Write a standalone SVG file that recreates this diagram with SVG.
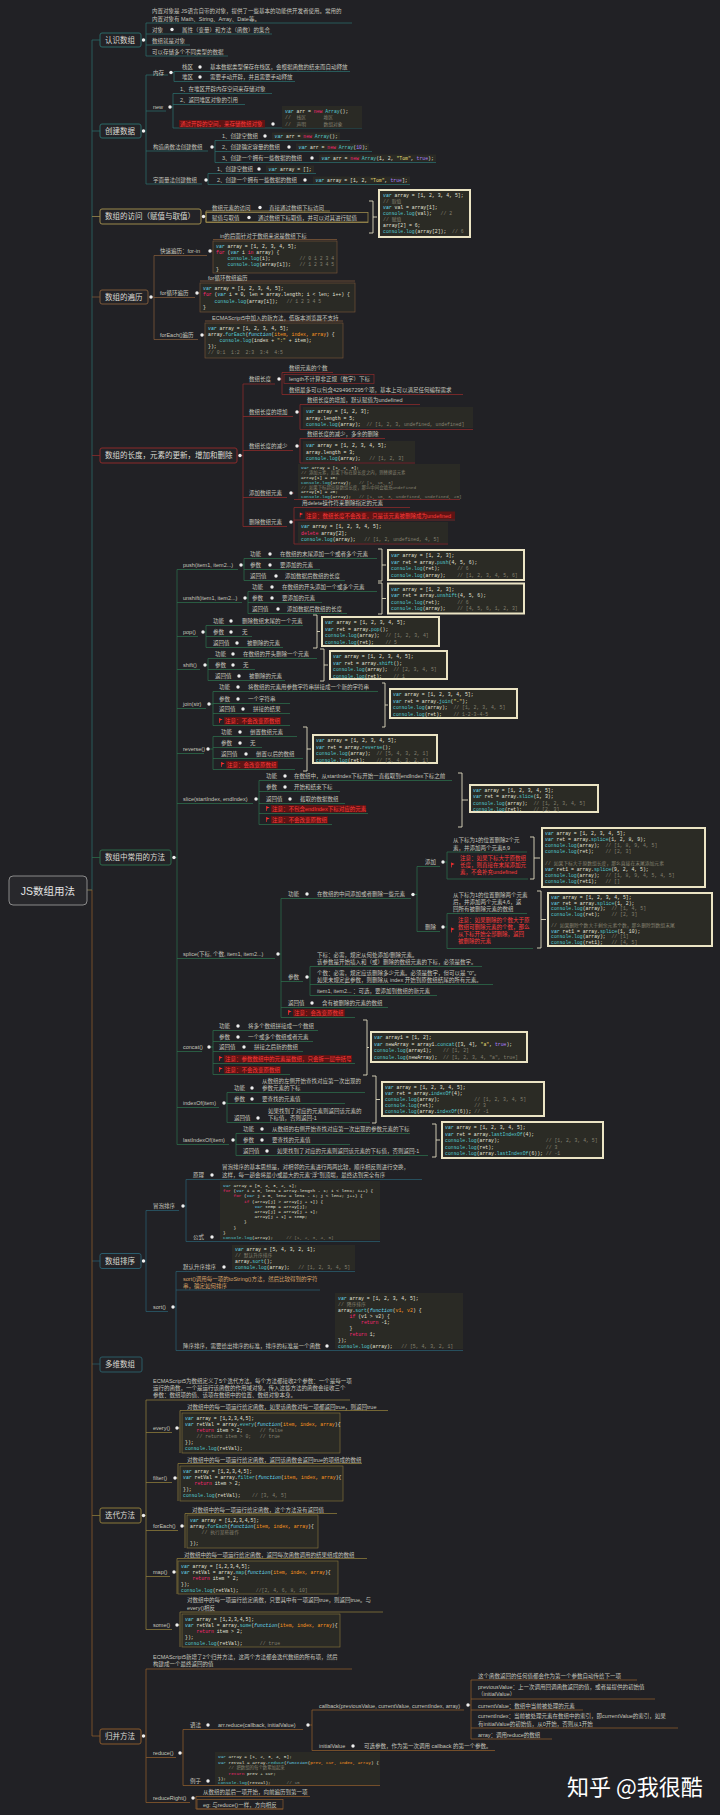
<svg xmlns="http://www.w3.org/2000/svg" width="720" height="1815" viewBox="0 0 720 1815">
<defs>
<style>
text{font-family:"Liberation Sans","Noto Sans CJK SC",sans-serif}
.t{font-size:5.5px;fill:#c6c6be}
.cat{font-size:7.5px;fill:#dcdcd4}
.c{font-family:"Liberation Mono","Noto Sans CJK SC",monospace;font-size:4.8px;fill:#e4e4da;white-space:pre}
.sm{font-size:4.4px}
.k{fill:#66d9ef;font-style:italic}
.p{fill:#f92672}
.f{fill:#52c6cc}
.s{fill:#e6db74}
.m{fill:#858170}
.o{fill:#fd971f}
.n{fill:#ae81ff}
.rt{fill:#ff3a3a}
.rb{fill:#5e1414}
.tan{fill:#d9a467}
.dot{fill:#f0f0f0}
.cb{fill:#2a2a25}
.fr{fill:#2b2b25;stroke:#ebe4c4;stroke-width:2}
.br{fill:none;stroke:#e0dac0;stroke-width:0.9}
.ln{fill:none;stroke-width:0.8}
.box{fill:#232327;stroke-width:1}
.c1{stroke:#2b6a68}
.c2{stroke:#9c8a4c}
.c3{stroke:#7d5838}
.c4{stroke:#8c2b2b}
.c5{stroke:#2c6b4a}
.c6{stroke:#2a5c6c}
.c7{stroke:#2a5c66}
.c8{stroke:#8c7a3a}
.c9{stroke:#8a5a2c}
</style>
<symbol id="flag" viewBox="0 0 5 6"><path d="M0.6,0V6" stroke="#ff3030" stroke-width="0.9"/><path d="M0.6,0.3L4.6,1.8L0.6,3.3Z" fill="#ff3030"/></symbol>
</defs>
<rect width="720" height="1815" fill="#212125"/>

<g id="connectors">
<g class="ln c1">
<path d="M87,890H92V40H100M143,40H146M146,23V56M146,23H352M146,34H272M146,45H190M146,56H228"/>
<path d="M92,131H100M143,131H146M146,75V184M146,75H168M171,72.5H174M174,71.5V81.5M174,71.5H350M174,81.5H295M146,111H166M170,107H173M173,93.5V128M173,93.5H272M173,104.5H245M173,128H362M146,151H208M212,147H215M215,140.5V162.5M215,140.5H350M215,151.5H372M215,162.5H436M146,184H202M206,180H208M208,173.5V184.5M208,173.5H316M208,184.5H410"/>
</g>
<g class="ln c2"><path d="M92,216.5H100M203.5,216.5H206M206,211V222M206,211H330M206,222H368"/></g>
<g class="ln c3"><path d="M92,297H100M151,297H154M154,255.5V339.5M154,255.5H207M210,251H213M213,239.5H337M154,297.5H195M197,293H200M200,281H355M154,339.5H198M202,335H205M205,321H343"/></g>
<g class="ln c4"><path d="M92,455.5H100M240,455.5H243M243,384V526.5M243,384H275M279,379H282M282,372.5V394.5M282,372.5H333M282,394.5H463M243,416.5H293M297,412H300M300,404.5V429.5M300,404.5H420M300,429.5H473M243,450.5H293M297,446H300M300,438.5V463M300,438.5H385M300,463H415M243,497.5H287M291,493H294M294,499.5H460M243,526.5H287M291,522H294M294,507.5V544M294,507.5H410M294,520H455M294,544H448"/></g>
<g class="ln c5"><path d="M92,857.5H100M174,857.5H177M177,569.5V1144.5
M177,569.5H238M241,565H244M244,558.5V580.5M244,558.5H377M244,569.5H320M244,580.5H345
M177,602.5H242M245,598H248M248,591.5V613.5M248,591.5H377M248,602.5H322M248,613.5H347
M177,636.5H198M203,632H206M206,625.5V647.5M206,625.5H303M206,636.5H252M206,647.5H283
M177,669.5H200M205,665H208M208,658.5V680.5M208,658.5H317M208,669.5H255M208,680.5H285
M177,708.5H206M209,704H213M213,691.5V725.5M213,691.5H378M213,703.5H290M213,713.5H290M213,725.5H290
M177,753.5H204M208,749H213M213,736.5V769.5M213,736.5H297M213,747.5H262M213,758.5H303M213,769.5H295
M177,803.5H253M256,799H259M259,780.5V824.5M259,780.5H452M259,791.5H340M259,803.5H345M259,813.5H368M259,824.5H332
M177,958.5H275M278,954H281M281,898.5V1017.5M281,898.5H411M411,894.5H417M417,866.5V931.5M417,866.5H440M417,931.5H440M443,862H447M447,852V879M447,852H527M447,879H528M443,927H447M447,913.5V948.5M447,913.5H527M447,948.5H533
M281,981.5H303M307,977H310M310,966.5V995.5M310,966.5H482M310,984.5H493M310,995.5H437M281,1007.5H388M281,1017.5H355
M177,1051.5H202M209,1047H213M213,1030.5V1074.5M213,1030.5H318M213,1041.5H313M213,1051.5H303M213,1063.5H355M213,1074.5H290
M177,1107.5H219M224,1103H227M227,1092.5V1122.5M227,1092.5H365M227,1103.5H345M227,1122.5H370
M177,1144.5H229M233,1140H236M236,1133.5V1155.5M236,1133.5H410M236,1144.5H350M236,1155.5H428"/></g>
<g class="ln c6"><path d="M92,1261H100M143,1261H146M146,1210.5V1311.5M146,1210.5H179M183,1206H186M186,1179.5V1241.5M186,1179.5H422M186,1241.5H380M146,1311.5H168M173,1307H176M176,1271.5V1350.5M176,1271.5H355M176,1290H320M176,1350.5H463"/></g>
<g class="ln c7"><path d="M92,1364H100"/></g>
<g class="ln c8"><path d="M92,1515.5H100M143,1515.5H146M146,1400V1629.5M146,1400H350M146,1432.5H172M177,1428H180M180,1410.5V1453M180,1410.5H388M146,1482.5H172M175,1478H178M178,1463.5V1501M178,1463.5H362M146,1530.5H178M182,1526H185M185,1513.5V1548M185,1513.5H337M146,1576.5H170M174,1572H177M177,1558.5V1594M177,1558.5H367M146,1629.5H172M177,1625H180M180,1612V1647M180,1612H383"/></g>
<g class="ln c9"><path d="M87,890H92V1736H100M143,1736H146M146,1669V1802.5M146,1669H352M146,1757.5H176M180,1753H183M183,1729.5V1785.5M183,1729.5H303M308,1725H312M312,1710V1750.5M312,1710H464M468,1705H471M471,1680V1739M471,1680H637M471,1699H655M471,1710H583M471,1728H678M471,1739H552M312,1750.5H495M183,1785.5H380M146,1802.5H190M193,1798H196M196,1796.5V1809M196,1796.5H310M196,1809H283"/></g>
<g class="br">
<path d="M369,201H373V233H369M373,217H377"/>
<path d="M378,549H382V581H378M382,565H386"/>
<path d="M378,583H382V614H378M382,598.5H386"/>
<path d="M313,615H317V648H313M317,631.5H320"/>
<path d="M320,649H324V681H320M324,665H328"/>
<path d="M382,683H385V727H382M385,705H388"/>
<path d="M303,727H307V771H303M307,749H311"/>
<path d="M458,773H462V827H458M462,800H468"/>
<path d="M530,837H534V879H530M534,858H540"/>
<path d="M537,891H541V948H537M541,919.5H546"/>
<path d="M363,1020H367V1075H363M367,1047.5H369"/>
<path d="M372,1076H376V1123H372M376,1099.5H380"/>
<path d="M432,1124H436V1157H432M436,1140H440"/>
</g>
</g>

<g id="root"><rect x="9" y="876" width="78" height="29" rx="4" fill="#28282c" stroke="#8a8a8a" stroke-width="1"/><text x="48" y="894.5" text-anchor="middle" style="font-size:10.5px;fill:#e2e2e2">JS数组用法</text></g>

<g id="sec1">
<g id="cat-renshi"><rect x="100" y="33" width="41" height="14" rx="2" class="box c1"/><text class="cat" x="105" y="42.6">认识数组</text><circle class="dot" cx="143.5" cy="40" r="1.7"/></g>
<g id="n-neizhi"><text class="t" x="152" y="13">内置对象是 JS语言自带的对象，提供了一些基本的功能供开发者使用。常用的</text><text class="t" x="152" y="20.5">内置对象有 Math、String、Array、Date等。</text></g>
<g id="n-duixiang"><text class="t" x="152" y="31.5">对象</text><circle class="dot" cx="172" cy="29.5" r="1.7"/><text class="t" x="182" y="31.5">属性（变量）和方法（函数）的集合</text></g>
<g id="n-shuzuduixiang"><text class="t" x="152" y="43">数组就是对象</text></g>
<g id="n-cunchu"><text class="t" x="152" y="54">可以存储多个不同类型的数据</text></g>
</g>

<g id="sec2">
<g id="cat-chuangjian"><rect x="100" y="124" width="41" height="14" rx="2" class="box c1"/><text class="cat" x="105" y="133.6">创建数据</text><circle class="dot" cx="143.5" cy="131" r="1.7"/></g>
<g id="n-neicun"><text class="t" x="153" y="74.5">内存</text><circle class="dot" cx="171" cy="72.5" r="1.7"/>
<text class="t" x="182" y="69">栈区</text><circle class="dot" cx="200" cy="67" r="1.7"/><text class="t" x="210" y="69">基本数据类型保存在栈区，会根据函数的结束而自动释放</text>
<text class="t" x="182" y="79">堆区</text><circle class="dot" cx="200" cy="77" r="1.7"/><text class="t" x="210" y="79">需要手动开辟，并且需要手动释放</text></g>
<g id="n-new"><text class="t" x="153" y="109">new</text><circle class="dot" cx="170" cy="107" r="1.7"/>
<text class="t" x="180" y="91">1、在堆区开辟内存空间来存储对象</text>
<text class="t" x="180" y="102">2、返回堆区对象的引用</text>
<rect class="rb" x="179" y="120" width="86" height="7.5"/><text class="t rt" x="180" y="126">通过开辟的空间，来存储数组对象</text><circle class="dot" cx="273" cy="124" r="1.7"/>
<rect class="cb" x="282" y="106" width="80" height="22"/>
<text class="c" x="285" y="112.5"><tspan class="k">var</tspan> arr = <tspan class="p">new</tspan> <tspan class="f">Array</tspan>();</text>
<text class="c m" x="285" y="119">//  栈区      堆区</text>
<text class="c m" x="285" y="125.5">//  声明      数组对象</text></g>
<g id="n-gouzao"><text class="t" x="153" y="149">构造函数法创建数组</text><circle class="dot" cx="212" cy="147" r="1.7"/>
<text class="t" x="222" y="138">1、创建空数组</text><circle class="dot" cx="265" cy="136" r="1.7"/><rect class="cb" x="272" y="132.5" width="68" height="7"/><text class="c" x="274.5" y="137.8"><tspan class="k">var</tspan> arr = <tspan class="p">new</tspan> <tspan class="f">Array</tspan>();</text>
<text class="t" x="222" y="149">2、创建确定容量的数组</text><circle class="dot" cx="289" cy="147" r="1.7"/><rect class="cb" x="296" y="143.5" width="73" height="7"/><text class="c" x="298.5" y="148.8"><tspan class="k">var</tspan> arr = <tspan class="p">new</tspan> <tspan class="f">Array</tspan>(<tspan class="n">10</tspan>);</text>
<text class="t" x="222" y="160">3、创建一个拥有一些数据的数组</text><circle class="dot" cx="312" cy="158" r="1.7"/><rect class="cb" x="319" y="154.5" width="117" height="7"/><text class="c" x="321.5" y="159.8"><tspan class="k">var</tspan> arr = <tspan class="p">new</tspan> <tspan class="f">Array</tspan>(1, 2, <tspan class="s">"Tom"</tspan>, <tspan class="n">true</tspan>);</text></g>
<g id="n-zimianliang"><text class="t" x="153" y="182">字面量法创建数组</text><circle class="dot" cx="206" cy="180" r="1.7"/>
<text class="t" x="217" y="171">1、创建空数组</text><circle class="dot" cx="259" cy="169" r="1.7"/><rect class="cb" x="266" y="165.5" width="48" height="7"/><text class="c" x="268.5" y="170.8"><tspan class="k">var</tspan> array = [];</text>
<text class="t" x="217" y="182">2、创建一个拥有一些数据的数组</text><circle class="dot" cx="305" cy="180" r="1.7"/><rect class="cb" x="313" y="176.5" width="97" height="7"/><text class="c" x="315.5" y="181.8"><tspan class="k">var</tspan> array = [1, 2, <tspan class="s">"Tom"</tspan>, <tspan class="n">true</tspan>];</text></g>
</g>

<g id="sec3">
<g id="cat-fangwen"><rect x="100" y="209" width="101" height="15" rx="2" class="box c2"/><text class="cat" x="105" y="219.3">数组的访问（赋值与取值）</text><circle class="dot" cx="203.5" cy="216.5" r="1.7"/></g>
<g id="n-fangwen"><text class="t" x="212" y="209.5">数组元素的访问</text><circle class="dot" cx="260" cy="207.5" r="1.7"/><text class="t" x="269" y="209.5">直接通过数组下标访问</text></g>
<g id="n-fuzhi"><rect x="206" y="212.5" width="162" height="10" fill="none" stroke="#9c8a4c" stroke-width="0.8"/><text class="t" x="212" y="219.5">赋值与取值</text><circle class="dot" cx="249" cy="217.5" r="1.7"/><text class="t" x="258" y="219.5">通过数组下标取值，并可以对其进行赋值</text></g>
<g id="code-fangwen"><rect class="fr" x="379" y="190" width="91" height="47"/>
<text class="c" x="383" y="196.5"><tspan class="k">var</tspan> array = [1, 2, 3, 4, 5];</text>
<text class="c m" x="383" y="202.6">// 取值</text>
<text class="c" x="383" y="208.7"><tspan class="k">var</tspan> val = array[1];</text>
<text class="c" x="383" y="214.8"><tspan class="f">console.log</tspan>(val);   <tspan class="m">// 2</tspan></text>
<text class="c m" x="383" y="220.9">// 赋值</text>
<text class="c" x="383" y="227">array[2] = 6;</text>
<text class="c" x="383" y="233.1"><tspan class="f">console.log</tspan>(array[2]);  <tspan class="m">// 6</tspan></text></g>
</g>

<g id="sec4">
<g id="cat-bianli"><rect x="100" y="290" width="48" height="14" rx="2" class="box c3"/><text class="cat" x="105" y="299.6">数组的遍历</text><circle class="dot" cx="151" cy="297" r="1.7"/></g>
<g id="n-forin"><text class="t" x="160" y="253">快速遍历：for-in</text><circle class="dot" cx="210" cy="251" r="1.7"/>
<text class="t" x="220" y="237.5">in的后面针对于数组来说是数组下标</text>
<rect class="cb" x="213" y="241" width="124" height="32" stroke="#7d5838" stroke-width="0.6"/>
<text class="c" x="216" y="247.5"><tspan class="k">var</tspan> array = [1, 2, 3, 4, 5];</text>
<text class="c" x="216" y="253.5"><tspan class="p">for</tspan> (<tspan class="k">var</tspan> i <tspan class="p">in</tspan> array) {</text>
<text class="c" x="216" y="259.5">    <tspan class="f">console.log</tspan>(i);          <tspan class="m">// 0 1 2 3 4</tspan></text>
<text class="c" x="216" y="265.5">    <tspan class="f">console.log</tspan>(array[i]);   <tspan class="m">// 1 2 3 4 5</tspan></text>
<text class="c" x="216" y="271">}</text></g>
<g id="n-for"><text class="t" x="160" y="295">for循环遍历</text><circle class="dot" cx="197" cy="293" r="1.7"/>
<text class="t" x="208" y="279.5">for循环数组遍历</text>
<rect class="cb" x="200" y="283" width="155" height="29" stroke="#7d5838" stroke-width="0.6"/>
<text class="c" x="203" y="289.5"><tspan class="k">var</tspan> array = [1, 2, 3, 4, 5];</text>
<text class="c" x="203" y="296"><tspan class="p">for</tspan> (<tspan class="k">var</tspan> i = 0, len = array.length; i &lt; len; i++) {</text>
<text class="c" x="203" y="302.5">    <tspan class="f">console.log</tspan>(array[i]);   <tspan class="m">// 1 2 3 4 5</tspan></text>
<text class="c" x="203" y="309">}</text></g>
<g id="n-foreach"><text class="t" x="160" y="337">forEach()遍历</text><circle class="dot" cx="202" cy="335" r="1.7"/>
<text class="t" x="212" y="319.5">ECMAScript5中加入的新方法，低版本浏览器不支持</text>
<rect class="cb" x="205" y="323" width="138" height="35" stroke="#7d5838" stroke-width="0.6"/>
<text class="c" x="208" y="329.5"><tspan class="k">var</tspan> array = [1, 2, 3, 4, 5];</text>
<text class="c" x="208" y="335.5">array.<tspan class="f">forEach</tspan>(<tspan class="k">function</tspan>(<tspan class="o">item, index, array</tspan>) {</text>
<text class="c" x="208" y="341.5">    <tspan class="f">console.log</tspan>(index + <tspan class="s">":"</tspan> + item);</text>
<text class="c" x="208" y="347.5">});</text>
<text class="c m" x="208" y="353.5">// 0:1  1:2  2:3  3:4  4:5</text></g>
</g>

<g id="sec5">
<g id="cat-changdu"><rect x="100" y="448" width="137" height="15" rx="2" class="box c4"/><text class="cat" x="105" y="458.3">数组的长度，元素的更新，增加和删除</text><circle class="dot" cx="240" cy="455.5" r="1.7"/></g>
<g id="n-length"><text class="t" x="249" y="381">数组长度</text><circle class="dot" cx="279" cy="379" r="1.7"/>
<text class="t" x="289" y="370">数组元素的个数</text>
<rect x="284" y="374.5" width="90" height="9" fill="none" stroke="#8c2b2b" stroke-width="0.7"/><text class="t" x="289" y="381">length不计算非正规（数字）下标</text>
<text class="t" x="289" y="392">数组最多可以包含4294967295个项，基本上可以满足任何编程需求</text></g>
<g id="n-zengjia"><text class="t" x="249" y="414">数组长度的增加</text><circle class="dot" cx="297" cy="412" r="1.7"/>
<text class="t" x="307" y="402">数组长度的增加，默认赋值为undefined</text>
<rect class="cb" x="303" y="407" width="170" height="21"/>
<text class="c" x="306" y="413"><tspan class="k">var</tspan> array = [1, 2, 3];</text>
<text class="c" x="306" y="419.5">array.length = 5;</text>
<text class="c" x="306" y="426"><tspan class="f">console.log</tspan>(array);  <tspan class="m">// [1, 2, 3, undefined, undefined]</tspan></text></g>
<g id="n-jianshao"><text class="t" x="249" y="448">数组长度的减少</text><circle class="dot" cx="297" cy="446" r="1.7"/>
<text class="t" x="307" y="436">数组长度的减少，多余的删除</text>
<rect class="cb" x="303" y="441" width="112" height="21"/>
<text class="c" x="306" y="447"><tspan class="k">var</tspan> array = [1, 2, 3, 4, 5];</text>
<text class="c" x="306" y="453.5">array.length = 3;</text>
<text class="c" x="306" y="460"><tspan class="f">console.log</tspan>(array);   <tspan class="m">// [1, 2, 3]</tspan></text></g>
<g id="n-tianjia"><text class="t" x="249" y="495">添加数组元素</text><circle class="dot" cx="291" cy="493" r="1.7"/>
<rect class="cb" x="298" y="464" width="162" height="35"/>
<text class="c sm" x="301" y="469.3"><tspan class="k">var</tspan> array = [1, 2, 3];</text>
<text class="c sm m" x="301" y="474.1">// 添加元素，如果下标在原长度之内，则替换该元素</text>
<text class="c sm" x="301" y="478.9">array[1] = 10;</text>
<text class="c sm" x="301" y="483.7"><tspan class="f">console.log</tspan>(array);   <tspan class="m">// [1, 10, 3]</tspan></text>
<text class="c sm m" x="301" y="488.5">// 如果下标超出原数组长度，那么中间会填充undefined</text>
<text class="c sm" x="301" y="493.3">array[5] = 20;</text>
<text class="c sm" x="301" y="498.1"><tspan class="f">console.log</tspan>(array);   <tspan class="m">// [1, 10, 3, undefined, undefined, 20]</tspan></text></g>
<g id="n-shanchu"><text class="t" x="249" y="524">删除数组元素</text><circle class="dot" cx="291" cy="522" r="1.7"/>
<text class="t" x="302" y="505">用delete操作符来删除指定的元素</text>
<use href="#flag" x="299.5" y="512" width="4" height="6"/><rect class="rb" x="305" y="511.5" width="150" height="7.5"/><text class="t rt" x="306" y="517.5">注意：数组长度不会改变，只是该元素被删除成为undefined</text>
<rect class="cb" x="298" y="522" width="150" height="21"/>
<text class="c" x="301" y="528"><tspan class="k">var</tspan> array = [1, 2, 3, 4, 5];</text>
<text class="c" x="301" y="534.5"><tspan class="p">delete</tspan> array[2];</text>
<text class="c" x="301" y="541"><tspan class="f">console.log</tspan>(array);   <tspan class="m">// [1, 2, undefined, 4, 5]</tspan></text></g>
</g>

<g id="sec6">
<g id="cat-fangfa"><rect x="100" y="850" width="71" height="15" rx="2" class="box c5"/><text class="cat" x="105" y="860.3">数组中常用的方法</text><circle class="dot" cx="174" cy="857.5" r="1.7"/></g>

<g id="m-push"><text class="t" x="183" y="567">push(item1, item2...)</text><circle class="dot" cx="241" cy="565" r="1.7"/>
<text class="t" x="250" y="556">功能</text><circle class="dot" cx="270" cy="554" r="1.7"/><text class="t" x="280" y="556">在数组的末尾添加一个或者多个元素</text>
<text class="t" x="250" y="567">参数</text><circle class="dot" cx="270" cy="565" r="1.7"/><text class="t" x="280" y="567">要添加的元素</text>
<text class="t" x="250" y="578">返回值</text><circle class="dot" cx="276" cy="576" r="1.7"/><text class="t" x="285" y="578">添加数据后数组的长度</text>
<rect class="fr" x="388" y="550" width="136" height="30"/>
<text class="c" x="391" y="557"><tspan class="k">var</tspan> array = [1, 2, 3];</text>
<text class="c" x="391" y="563.5"><tspan class="k">var</tspan> ret = array.<tspan class="f">push</tspan>(4, 5, 6);</text>
<text class="c" x="391" y="570"><tspan class="f">console.log</tspan>(ret);      <tspan class="m">// 6</tspan></text>
<text class="c" x="391" y="576.5"><tspan class="f">console.log</tspan>(array);    <tspan class="m">// [1, 2, 3, 4, 5, 6]</tspan></text></g>

<g id="m-unshift"><text class="t" x="183" y="600">unshift(item1, item2...)</text><circle class="dot" cx="245" cy="598" r="1.7"/>
<text class="t" x="252" y="589">功能</text><circle class="dot" cx="272" cy="587" r="1.7"/><text class="t" x="282" y="589">在数组的开头添加一个或多个元素</text>
<text class="t" x="252" y="600">参数</text><circle class="dot" cx="272" cy="598" r="1.7"/><text class="t" x="282" y="600">要添加的元素</text>
<text class="t" x="252" y="611">返回值</text><circle class="dot" cx="278" cy="609" r="1.7"/><text class="t" x="287" y="611">添加数据后数组的长度</text>
<rect class="fr" x="388" y="583.5" width="136" height="30"/>
<text class="c" x="391" y="590.5"><tspan class="k">var</tspan> array = [1, 2, 3];</text>
<text class="c" x="391" y="597"><tspan class="k">var</tspan> ret = array.<tspan class="f">unshift</tspan>(4, 5, 6);</text>
<text class="c" x="391" y="603.5"><tspan class="f">console.log</tspan>(ret);      <tspan class="m">// 6</tspan></text>
<text class="c" x="391" y="610"><tspan class="f">console.log</tspan>(array);    <tspan class="m">// [4, 5, 6, 1, 2, 3]</tspan></text></g>

<g id="m-pop"><text class="t" x="183" y="634">pop()</text><circle class="dot" cx="203" cy="632" r="1.7"/>
<text class="t" x="213" y="623">功能</text><circle class="dot" cx="231" cy="621" r="1.7"/><text class="t" x="242" y="623">删除数组末尾的一个元素</text>
<text class="t" x="213" y="634">参数</text><circle class="dot" cx="231" cy="632" r="1.7"/><text class="t" x="242" y="634">无</text>
<text class="t" x="213" y="645">返回值</text><circle class="dot" cx="237" cy="643" r="1.7"/><text class="t" x="247" y="645">被删除的元素</text>
<rect class="fr" x="322" y="617" width="117" height="29"/>
<text class="c" x="325" y="624"><tspan class="k">var</tspan> array = [1, 2, 3, 4, 5];</text>
<text class="c" x="325" y="630.5"><tspan class="k">var</tspan> ret = array.<tspan class="f">pop</tspan>();</text>
<text class="c" x="325" y="637"><tspan class="f">console.log</tspan>(array);  <tspan class="m">// [1, 2, 3, 4]</tspan></text>
<text class="c" x="325" y="643.5"><tspan class="f">console.log</tspan>(ret);    <tspan class="m">// 5</tspan></text></g>

<g id="m-shift"><text class="t" x="183" y="667">shift()</text><circle class="dot" cx="205" cy="665" r="1.7"/>
<text class="t" x="215" y="656">功能</text><circle class="dot" cx="233" cy="654" r="1.7"/><text class="t" x="243" y="656">在数组的开头删除一个元素</text>
<text class="t" x="215" y="667">参数</text><circle class="dot" cx="233" cy="665" r="1.7"/><text class="t" x="243" y="667">无</text>
<text class="t" x="215" y="678">返回值</text><circle class="dot" cx="239" cy="676" r="1.7"/><text class="t" x="249" y="678">被删除的元素</text>
<rect class="fr" x="330" y="651" width="117" height="28"/>
<text class="c" x="333" y="658"><tspan class="k">var</tspan> array = [1, 2, 3, 4, 5];</text>
<text class="c" x="333" y="664.5"><tspan class="k">var</tspan> ret = array.<tspan class="f">shift</tspan>();</text>
<text class="c" x="333" y="671"><tspan class="f">console.log</tspan>(array);  <tspan class="m">// [2, 3, 4, 5]</tspan></text>
<text class="c" x="333" y="677.5"><tspan class="f">console.log</tspan>(ret);    <tspan class="m">// 1</tspan></text></g>

<g id="m-join"><text class="t" x="183" y="706">join(str)</text><circle class="dot" cx="209" cy="704" r="1.7"/>
<text class="t" x="219" y="689">功能</text><circle class="dot" cx="238" cy="687" r="1.7"/><text class="t" x="248" y="689">将数组的元素用参数字符串拼接成一个新的字符串</text>
<text class="t" x="219" y="701">参数</text><circle class="dot" cx="238" cy="699" r="1.7"/><text class="t" x="248" y="701">一个字符串</text>
<text class="t" x="219" y="711">返回值</text><circle class="dot" cx="243" cy="709" r="1.7"/><text class="t" x="253" y="711">拼接的结果</text>
<use href="#flag" x="219" y="717.5" width="4" height="6"/><rect class="rb" x="224" y="717" width="57" height="7.5"/><text class="t rt" x="225" y="723">注意：不会改变原数组</text>
<rect class="fr" x="390" y="689" width="127" height="29"/>
<text class="c" x="393" y="696"><tspan class="k">var</tspan> array = [1, 2, 3, 4, 5];</text>
<text class="c" x="393" y="702.5"><tspan class="k">var</tspan> ret = array.<tspan class="f">join</tspan>(<tspan class="s">"-"</tspan>);</text>
<text class="c" x="393" y="709"><tspan class="f">console.log</tspan>(array);  <tspan class="m">// [1, 2, 3, 4, 5]</tspan></text>
<text class="c" x="393" y="715.5"><tspan class="f">console.log</tspan>(ret);    <tspan class="m">// 1-2-3-4-5</tspan></text></g>

<g id="m-reverse"><text class="t" x="183" y="751">reverse()</text><circle class="dot" cx="208" cy="749" r="1.7"/>
<text class="t" x="221" y="734">功能</text><circle class="dot" cx="240" cy="732" r="1.7"/><text class="t" x="250" y="734">倒置数组元素</text>
<text class="t" x="221" y="745">参数</text><circle class="dot" cx="240" cy="743" r="1.7"/><text class="t" x="250" y="745">无</text>
<text class="t" x="221" y="756">返回值</text><circle class="dot" cx="246" cy="754" r="1.7"/><text class="t" x="256" y="756">倒置以后的数组</text>
<use href="#flag" x="221" y="761.5" width="4" height="6"/><rect class="rb" x="226" y="761" width="52" height="7.5"/><text class="t rt" x="227" y="767">注意：会改变原数组</text>
<rect class="fr" x="313" y="735" width="124" height="28"/>
<text class="c" x="316" y="742"><tspan class="k">var</tspan> array = [1, 2, 3, 4, 5];</text>
<text class="c" x="316" y="748.5"><tspan class="k">var</tspan> ret = array.<tspan class="f">reverse</tspan>();</text>
<text class="c" x="316" y="755"><tspan class="f">console.log</tspan>(array);  <tspan class="m">// [5, 4, 3, 2, 1]</tspan></text>
<text class="c" x="316" y="761.5"><tspan class="f">console.log</tspan>(ret);    <tspan class="m">// [5, 4, 3, 2, 1]</tspan></text></g>

<g id="m-slice"><text class="t" x="183" y="801">slice(startIndex, endIndex)</text><circle class="dot" cx="256" cy="799" r="1.7"/>
<text class="t" x="266" y="778">功能</text><circle class="dot" cx="285" cy="776" r="1.7"/><text class="t" x="294" y="778">在数组中，从startIndex下标开始一直截取到endIndex下标之前</text>
<text class="t" x="266" y="789">参数</text><circle class="dot" cx="285" cy="787" r="1.7"/><text class="t" x="294" y="789">开始和结束下标</text>
<text class="t" x="266" y="801">返回值</text><circle class="dot" cx="290" cy="799" r="1.7"/><text class="t" x="300" y="801">截取的数据数组</text>
<use href="#flag" x="266" y="805.5" width="4" height="6"/><rect class="rb" x="271" y="805" width="95" height="7.5"/><text class="t rt" x="272" y="811">注意：不包含endIndex下标对应的元素</text>
<use href="#flag" x="266" y="816.5" width="4" height="6"/><rect class="rb" x="271" y="816" width="57" height="7.5"/><text class="t rt" x="272" y="822">注意：不会改变原数组</text>
<rect class="fr" x="470" y="785" width="128" height="27"/>
<text class="c" x="473" y="792"><tspan class="k">var</tspan> array = [1, 2, 3, 4, 5];</text>
<text class="c" x="473" y="798.3"><tspan class="k">var</tspan> ret = array.<tspan class="f">slice</tspan>(1, 3);</text>
<text class="c" x="473" y="804.6"><tspan class="f">console.log</tspan>(array);  <tspan class="m">// [1, 2, 3, 4, 5]</tspan></text>
<text class="c" x="473" y="810.9"><tspan class="f">console.log</tspan>(ret);    <tspan class="m">// [2, 3]</tspan></text></g>

<g id="m-splice"><text class="t" x="183" y="956">splice(下标, 个数, item1, item2...)</text><circle class="dot" cx="278" cy="954" r="1.7"/>
<g id="splice-gongneng"><text class="t" x="288" y="896">功能</text><circle class="dot" cx="307" cy="894" r="1.7"/><text class="t" x="317" y="896">在数组的中间添加或者删除一些元素</text><circle class="dot" cx="413" cy="894.5" r="1.7"/></g>
<g id="splice-add"><text class="t" x="425" y="864">添加</text><circle class="dot" cx="443" cy="862" r="1.7"/>
<text class="t" x="453" y="842">从下标为1的位置删除2个元</text><text class="t" x="453" y="849.5">素，并添加两个元素8,9</text>
<use href="#flag" x="451" y="862" width="4" height="6"/>
<text class="t rt" x="460" y="859.5">注意：如果下标大于原数组</text><text class="t rt" x="460" y="866.5">长度，则直接在末尾添加元</text><text class="t rt" x="460" y="873.5">素，不会补充undefined</text>
<rect class="fr" x="542" y="828" width="163" height="59"/>
<text class="c" x="545" y="834.5"><tspan class="k">var</tspan> array = [1, 2, 3, 4, 5];</text>
<text class="c" x="545" y="840.5"><tspan class="k">var</tspan> ret = array.<tspan class="f">splice</tspan>(1, 2, 8, 9);</text>
<text class="c" x="545" y="846.5"><tspan class="f">console.log</tspan>(array);  <tspan class="m">// [1, 8, 9, 4, 5]</tspan></text>
<text class="c" x="545" y="852.5"><tspan class="f">console.log</tspan>(ret);    <tspan class="m">// [2, 3]</tspan></text>
<text class="c m" x="545" y="864.5">// 如果下标大于原数组长度，那么直接在末尾添加元素</text>
<text class="c" x="545" y="870.5"><tspan class="k">var</tspan> ret1 = array.<tspan class="f">splice</tspan>(9, 2, 4, 5);</text>
<text class="c" x="545" y="876.5"><tspan class="f">console.log</tspan>(array);  <tspan class="m">// [1, 8, 9, 4, 5, 4, 5]</tspan></text>
<text class="c" x="545" y="882.5"><tspan class="f">console.log</tspan>(ret1);   <tspan class="m">// []</tspan></text></g>
<g id="splice-del"><text class="t" x="425" y="929">删除</text><circle class="dot" cx="443" cy="927" r="1.7"/>
<text class="t" x="453" y="897">从下标为1的位置删除两个元素</text><text class="t" x="453" y="904">后，并添加两个元素4,6，返</text><text class="t" x="453" y="911">回所有被删除元素的数组</text>
<use href="#flag" x="451" y="927" width="4" height="6"/>
<text class="t rt" x="458" y="922">注意：如果删除的个数大于原</text><text class="t rt" x="458" y="929">数组可删除元素的个数，那么</text><text class="t rt" x="458" y="936">从下标开始全部删除，返回</text><text class="t rt" x="458" y="943">被删除的元素</text>
<rect class="fr" x="548" y="893" width="164" height="53"/>
<text class="c" x="551" y="899"><tspan class="k">var</tspan> array = [1, 2, 3, 4, 5];</text>
<text class="c" x="551" y="904.6"><tspan class="k">var</tspan> ret = array.<tspan class="f">splice</tspan>(1, 2);</text>
<text class="c" x="551" y="910.2"><tspan class="f">console.log</tspan>(array);  <tspan class="m">// [1, 4, 5]</tspan></text>
<text class="c" x="551" y="915.8"><tspan class="f">console.log</tspan>(ret);    <tspan class="m">// [2, 3]</tspan></text>
<text class="c m" x="551" y="927">// 如果删除个数大于剩余元素个数，那么删除到数组末尾</text>
<text class="c" x="551" y="932.6"><tspan class="k">var</tspan> ret1 = array.<tspan class="f">splice</tspan>(1, 10);</text>
<text class="c" x="551" y="938.2"><tspan class="f">console.log</tspan>(array);  <tspan class="m">// [1]</tspan></text>
<text class="c" x="551" y="943.8"><tspan class="f">console.log</tspan>(ret1);   <tspan class="m">// [4, 5]</tspan></text></g>
<g id="splice-canshu"><text class="t" x="288" y="979">参数</text><circle class="dot" cx="307" cy="977" r="1.7"/>
<text class="t" x="317" y="957">下标：必需，规定从何处添加/删除元素。</text><text class="t" x="317" y="964">该参数是开始插入和（或）删除的数组元素的下标，必须是数字。</text>
<text class="t" x="317" y="975">个数：必需，规定应该删除多少元素。必须是数字，但可以是 "0"。</text><text class="t" x="317" y="982">如果未规定此参数，则删除从 index 开始到原数组结尾的所有元素。</text>
<text class="t" x="317" y="993">item1, item2... ：可选，要添加到数组的新元素</text></g>
<g id="splice-fanhui"><text class="t" x="288" y="1005">返回值</text><circle class="dot" cx="312" cy="1003" r="1.7"/><text class="t" x="322" y="1005">含有被删除的元素的数组</text>
<use href="#flag" x="288" y="1009.5" width="4" height="6"/><rect class="rb" x="293" y="1009" width="52" height="7.5"/><text class="t rt" x="294" y="1015">注意：会改变原数组</text></g>
</g>

<g id="m-concat"><text class="t" x="183" y="1049">concat()</text><circle class="dot" cx="209" cy="1047" r="1.7"/>
<text class="t" x="219" y="1028">功能</text><circle class="dot" cx="238" cy="1026" r="1.7"/><text class="t" x="248" y="1028">将多个数组拼接成一个数组</text>
<text class="t" x="219" y="1039">参数</text><circle class="dot" cx="238" cy="1037" r="1.7"/><text class="t" x="248" y="1039">一个或多个数组或者元素</text>
<text class="t" x="219" y="1049">返回值</text><circle class="dot" cx="244" cy="1047" r="1.7"/><text class="t" x="254" y="1049">拼接之后新的数组</text>
<use href="#flag" x="219" y="1055.5" width="4" height="6"/><rect class="rb" x="224" y="1055" width="128" height="7.5"/><text class="t rt" x="225" y="1061">注意：参数数组中的元素是数组，只会拆一层中括号</text>
<use href="#flag" x="219" y="1066.5" width="4" height="6"/><rect class="rb" x="224" y="1066" width="57" height="7.5"/><text class="t rt" x="225" y="1072">注意：不会改变原数组</text>
<rect class="fr" x="371" y="1032" width="156" height="30"/>
<text class="c" x="374" y="1039"><tspan class="k">var</tspan> array1 = [1, 2];</text>
<text class="c" x="374" y="1045.5"><tspan class="k">var</tspan> newArray = array1.<tspan class="f">concat</tspan>([3, 4], <tspan class="s">"a"</tspan>, <tspan class="n">true</tspan>);</text>
<text class="c" x="374" y="1052"><tspan class="f">console.log</tspan>(array1);    <tspan class="m">// [1, 2]</tspan></text>
<text class="c" x="374" y="1058.5"><tspan class="f">console.log</tspan>(newArray);  <tspan class="m">// [1, 2, 3, 4, "a", true]</tspan></text></g>

<g id="m-indexof"><text class="t" x="183" y="1105">indexOf(item)</text><circle class="dot" cx="224" cy="1103" r="1.7"/>
<text class="t" x="262" y="1082.5">从数组的左侧开始查找对应第一次出现的</text>
<text class="t" x="234" y="1090">功能</text><circle class="dot" cx="252" cy="1088" r="1.7"/><text class="t" x="262" y="1090">参数元素的下标</text>
<text class="t" x="234" y="1101">参数</text><circle class="dot" cx="252" cy="1099" r="1.7"/><text class="t" x="262" y="1101">要查找的元素值</text>
<text class="t" x="268" y="1112.5">如果找到了对应的元素则返回该元素的</text>
<text class="t" x="234" y="1120">返回值</text><circle class="dot" cx="258" cy="1118" r="1.7"/><text class="t" x="268" y="1120">下标值，否则返回-1</text>
<rect class="fr" x="382" y="1082" width="162" height="34"/>
<text class="c" x="385" y="1088.5"><tspan class="k">var</tspan> array = [1, 2, 3, 4, 5];</text>
<text class="c" x="385" y="1094.7"><tspan class="k">var</tspan> ret = array.<tspan class="f">indexOf</tspan>(4);</text>
<text class="c" x="385" y="1100.9"><tspan class="f">console.log</tspan>(array);            <tspan class="m">// [1, 2, 3, 4, 5]</tspan></text>
<text class="c" x="385" y="1107.1"><tspan class="f">console.log</tspan>(ret);              <tspan class="m">// 3</tspan></text>
<text class="c" x="385" y="1113.3"><tspan class="f">console.log</tspan>(array.<tspan class="f">indexOf</tspan>(6)); <tspan class="m">// -1</tspan></text></g>

<g id="m-lastindexof"><text class="t" x="183" y="1142">lastIndexOf(item)</text><circle class="dot" cx="233" cy="1140" r="1.7"/>
<text class="t" x="243" y="1131">功能</text><circle class="dot" cx="262" cy="1129" r="1.7"/><text class="t" x="272" y="1131">从数组的右侧开始查找对应第一次出现的参数元素的下标</text>
<text class="t" x="243" y="1142">参数</text><circle class="dot" cx="262" cy="1140" r="1.7"/><text class="t" x="272" y="1142">要查找的元素值</text>
<text class="t" x="243" y="1153">返回值</text><circle class="dot" cx="267" cy="1151" r="1.7"/><text class="t" x="277" y="1153">如果找到了对应的元素则返回该元素的下标值，否则返回-1</text>
<rect class="fr" x="442" y="1122" width="161" height="36"/>
<text class="c" x="445" y="1129"><tspan class="k">var</tspan> array = [1, 2, 3, 4, 5];</text>
<text class="c" x="445" y="1135.5"><tspan class="k">var</tspan> ret = array.<tspan class="f">lastIndexOf</tspan>(4);</text>
<text class="c" x="445" y="1142"><tspan class="f">console.log</tspan>(array);                <tspan class="m">// [1, 2, 3, 4, 5]</tspan></text>
<text class="c" x="445" y="1148.5"><tspan class="f">console.log</tspan>(ret);                  <tspan class="m">// 3</tspan></text>
<text class="c" x="445" y="1155"><tspan class="f">console.log</tspan>(array.<tspan class="f">lastIndexOf</tspan>(6)); <tspan class="m">// -1</tspan></text></g>
</g>

<g id="sec7">
<g id="cat-paixu"><rect x="100" y="1253.5" width="41" height="15" rx="2" class="box c6"/><text class="cat" x="105" y="1263.8">数组排序</text><circle class="dot" cx="143.5" cy="1261" r="1.7"/></g>
<g id="n-maopao"><text class="t" x="153" y="1208">冒泡排序</text><circle class="dot" cx="183" cy="1206" r="1.7"/>
<text class="t" x="193" y="1177">原理</text><circle class="dot" cx="212" cy="1175" r="1.7"/>
<text class="t" x="222" y="1169">冒泡排序的基本思想是，对相邻的元素进行两两比较，顺序相反则进行交换，</text>
<text class="t" x="222" y="1176.5">这样，每一趟会将最小或最大的元素“浮”到顶端，最终达到完全有序</text>
<text class="t" x="193" y="1239">公式</text><circle class="dot" cx="212" cy="1237" r="1.7"/>
<rect class="cb" x="220" y="1181" width="160" height="59"/>
<text class="c sm" x="223" y="1187"><tspan class="k">var</tspan> array = [5, 4, 3, 2, 1];</text>
<text class="c sm" x="223" y="1192.2"><tspan class="p">for</tspan> (<tspan class="k">var</tspan> i = 0, len1 = array.length - 1; i &lt; len1; i++) {</text>
<text class="c sm" x="223" y="1197.4">    <tspan class="p">for</tspan> (<tspan class="k">var</tspan> j = 0, len2 = len1 - i; j &lt; len2; j++) {</text>
<text class="c sm" x="223" y="1202.6">        <tspan class="p">if</tspan> (array[j] > array[j + 1]) {</text>
<text class="c sm" x="223" y="1207.8">            <tspan class="k">var</tspan> temp = array[j];</text>
<text class="c sm" x="223" y="1213">            array[j] = array[j + 1];</text>
<text class="c sm" x="223" y="1218.2">            array[j + 1] = temp;</text>
<text class="c sm" x="223" y="1223.4">        }</text>
<text class="c sm" x="223" y="1228.6">    }</text>
<text class="c sm" x="223" y="1233.8">}</text>
<text class="c sm" x="223" y="1239"><tspan class="f">console.log</tspan>(array);     <tspan class="m">// [1, 2, 3, 4, 5]</tspan></text></g>
<g id="n-sort"><text class="t" x="153" y="1309">sort()</text><circle class="dot" cx="173" cy="1307" r="1.7"/>
<text class="t" x="183" y="1269">默认升序排序</text><circle class="dot" cx="224" cy="1267" r="1.7"/>
<rect class="cb" x="232" y="1245" width="123" height="25"/>
<text class="c" x="235" y="1251"><tspan class="k">var</tspan> array = [5, 4, 3, 2, 1];</text>
<text class="c m" x="235" y="1257">// 默认升序排序</text>
<text class="c" x="235" y="1263">array.<tspan class="f">sort</tspan>();</text>
<text class="c" x="235" y="1269"><tspan class="f">console.log</tspan>(array);   <tspan class="m">// [1, 2, 3, 4, 5]</tspan></text>
<text class="t tan" x="183" y="1280.5">sort()调用每一项的toString()方法，然后比较得到的字符</text>
<text class="t tan" x="183" y="1287.5">串，确定如何排序</text>
<text class="t" x="183" y="1348">降序排序，需要给出排序的标准，排序的标准是一个函数</text><circle class="dot" cx="327" cy="1346" r="1.7"/>
<rect class="cb" x="335" y="1293" width="128" height="56"/>
<text class="c" x="338" y="1299.5"><tspan class="k">var</tspan> array = [1, 2, 3, 4, 5];</text>
<text class="c m" x="338" y="1305.5">// 降序排序</text>
<text class="c" x="338" y="1311.5">array.<tspan class="f">sort</tspan>(<tspan class="k">function</tspan>(<tspan class="o">v1, v2</tspan>) {</text>
<text class="c" x="338" y="1317.5">    <tspan class="p">if</tspan> (v1 > v2) {</text>
<text class="c" x="338" y="1323.5">        <tspan class="p">return</tspan> -1;</text>
<text class="c" x="338" y="1329.5">    }</text>
<text class="c" x="338" y="1335.5">    <tspan class="p">return</tspan> 1;</text>
<text class="c" x="338" y="1341.5">});</text>
<text class="c" x="338" y="1347.5"><tspan class="f">console.log</tspan>(array);   <tspan class="m">// [5, 4, 3, 2, 1]</tspan></text></g>
</g>

<g id="sec8">
<g id="cat-duowei"><rect x="100" y="1357" width="42" height="15" rx="2" class="box c7"/><text class="cat" x="105" y="1367.3">多维数组</text></g>
</g>

<g id="sec9">
<g id="cat-diedai"><rect x="100" y="1508" width="41" height="15" rx="2" class="box c8"/><text class="cat" x="105" y="1518.3">迭代方法</text><circle class="dot" cx="143.5" cy="1515.5" r="1.7"/></g>
<g id="n-diedai-intro"><text class="t" x="153" y="1383">ECMAScript5为数组定义了5个迭代方法。每个方法都接收2个参数：一个是每一项</text>
<text class="t" x="153" y="1390">运行的函数，一个是运行该函数的作用域对象。传入这些方法的函数会接收三个</text>
<text class="t" x="153" y="1397">参数：数组项的值、该项在数组中的位置、数组对象本身。</text></g>
<g id="n-every"><text class="t" x="153" y="1430">every()</text><circle class="dot" cx="177" cy="1428" r="1.7"/>
<text class="t" x="187" y="1408.5">对数组中的每一项运行给定函数，如果该函数对每一项都返回true，则返回true</text>
<rect class="cb" x="182" y="1413" width="158" height="40" stroke="#8c7a3a" stroke-width="0.6"/>
<text class="c" x="185" y="1419.5"><tspan class="k">var</tspan> array = [1,2,3,4,5];</text>
<text class="c" x="185" y="1425.5"><tspan class="k">var</tspan> retVal = array.<tspan class="f">every</tspan>(<tspan class="k">function</tspan>(<tspan class="o">item, index, array</tspan>){</text>
<text class="c" x="185" y="1431.5">    <tspan class="p">return</tspan> item > 2;      <tspan class="m">// false</tspan></text>
<text class="c m" x="185" y="1437.5">    // return item > 0;   // true</text>
<text class="c" x="185" y="1443.5">});</text>
<text class="c" x="185" y="1449.5"><tspan class="f">console.log</tspan>(retVal);</text></g>
<g id="n-filter"><text class="t" x="153" y="1480">filter()</text><circle class="dot" cx="175" cy="1478" r="1.7"/>
<text class="t" x="187" y="1461.5">对数组中的每一项运行给定函数，返回该函数会返回true的项组成的数组</text>
<rect class="cb" x="180" y="1466" width="163" height="35" stroke="#8c7a3a" stroke-width="0.6"/>
<text class="c" x="183" y="1472.5"><tspan class="k">var</tspan> array = [1,2,3,4,5];</text>
<text class="c" x="183" y="1478.5"><tspan class="k">var</tspan> retVal = array.<tspan class="f">filter</tspan>(<tspan class="k">function</tspan>(<tspan class="o">item, index, array</tspan>){</text>
<text class="c" x="183" y="1484.5">    <tspan class="p">return</tspan> item > 2;</text>
<text class="c" x="183" y="1490.5">});</text>
<text class="c" x="183" y="1496.5"><tspan class="f">console.log</tspan>(retVal);    <tspan class="m">// [3, 4, 5]</tspan></text></g>
<g id="n-foreach2"><text class="t" x="153" y="1528">forEach()</text><circle class="dot" cx="182" cy="1526" r="1.7"/>
<text class="t" x="192" y="1511.5">对数组中的每一项运行给定函数，这个方法没有返回值</text>
<rect class="cb" x="187" y="1515" width="131" height="33" stroke="#8c7a3a" stroke-width="0.6"/>
<text class="c" x="190" y="1522"><tspan class="k">var</tspan> array = [1,2,3,4,5];</text>
<text class="c" x="190" y="1528">array.<tspan class="f">forEach</tspan>(<tspan class="k">function</tspan>(<tspan class="o">item, index, array</tspan>){</text>
<text class="c m" x="190" y="1534">    // 执行某些操作</text>
<text class="c" x="190" y="1545">});</text></g>
<g id="n-map"><text class="t" x="153" y="1574">map()</text><circle class="dot" cx="174" cy="1572" r="1.7"/>
<text class="t" x="184" y="1556.5">对数组中的每一项运行给定函数，返回每次函数调用的结果组成的数组</text>
<rect class="cb" x="178" y="1561" width="160" height="33" stroke="#8c7a3a" stroke-width="0.6"/>
<text class="c" x="181" y="1567.5"><tspan class="k">var</tspan> array = [1,2,3,4,5];</text>
<text class="c" x="181" y="1573.5"><tspan class="k">var</tspan> retVal = array.<tspan class="f">map</tspan>(<tspan class="k">function</tspan>(<tspan class="o">item, index, array</tspan>){</text>
<text class="c" x="181" y="1579.5">    <tspan class="p">return</tspan> item * 2;</text>
<text class="c" x="181" y="1585.5">});</text>
<text class="c" x="181" y="1591.5"><tspan class="f">console.log</tspan>(retVal);      <tspan class="m">//[2, 4, 6, 8, 10]</tspan></text></g>
<g id="n-some"><text class="t" x="153" y="1627">some()</text><circle class="dot" cx="177" cy="1625" r="1.7"/>
<text class="t" x="187" y="1602">对数组中的每一项运行给定函数，只要其中有一项返回true，则返回true。与</text>
<text class="t" x="187" y="1609.5">every()相反</text>
<rect class="cb" x="182" y="1614" width="158" height="33" stroke="#8c7a3a" stroke-width="0.6"/>
<text class="c" x="185" y="1620.5"><tspan class="k">var</tspan> array = [1,2,3,4,5];</text>
<text class="c" x="185" y="1626.5"><tspan class="k">var</tspan> retVal = array.<tspan class="f">some</tspan>(<tspan class="k">function</tspan>(<tspan class="o">item, index, array</tspan>){</text>
<text class="c" x="185" y="1632.5">    <tspan class="p">return</tspan> item > 2;</text>
<text class="c" x="185" y="1638.5">});</text>
<text class="c" x="185" y="1644.5"><tspan class="f">console.log</tspan>(retVal);      <tspan class="m">// true</tspan></text></g>
</g>

<g id="sec10">
<g id="cat-guibing"><rect x="100" y="1729" width="41" height="15" rx="2" class="box c9"/><text class="cat" x="105" y="1739.3">归并方法</text><circle class="dot" cx="143.5" cy="1736" r="1.7"/></g>
<g id="n-guibing-intro"><text class="t" x="153" y="1659">ECMAScript5新增了2个归并方法，这两个方法都会迭代数组的所有项，然后</text>
<text class="t" x="153" y="1666">构建成一个最终返回的值</text></g>
<g id="n-reduce"><text class="t" x="153" y="1755">reduce()</text><circle class="dot" cx="180" cy="1753" r="1.7"/>
<g id="reduce-yufa"><text class="t" x="190" y="1727">语法</text><circle class="dot" cx="208" cy="1725" r="1.7"/><text class="t" x="218" y="1727">arr.reduce(callback, initialValue)</text><circle class="dot" cx="308" cy="1725" r="1.7"/></g>
<g id="reduce-callback"><text class="t" x="319" y="1707.5">callback(previousValue, currentValue, currentIndex, array)</text><circle class="dot" cx="468" cy="1705" r="1.7"/>
<text class="t" x="478" y="1677.5">这个函数返回的任何值都会作为第一个参数自动传给下一项</text>
<text class="t" x="478" y="1689">previousValue：上一次调用回调函数返回的值，或者是提供的初始值</text>
<text class="t" x="478" y="1696">（initialValue）</text>
<text class="t" x="478" y="1707.5">currentValue：数组中当前被处理的元素</text>
<text class="t" x="478" y="1718">currentIndex：当前被处理元素在数组中的索引，即currentValue的索引，如果</text>
<text class="t" x="478" y="1725.5">有initialValue的初始值，从0开始，否则从1开始</text>
<text class="t" x="478" y="1736.5">array：调用reduce的数组</text></g>
<g id="reduce-initial"><text class="t" x="319" y="1748">initialValue</text><circle class="dot" cx="353" cy="1746" r="1.7"/><text class="t" x="364" y="1748">可选参数，作为第一次调用 callback 的第一个参数。</text></g>
<g id="reduce-lizi"><text class="t" x="190" y="1783">例子</text><circle class="dot" cx="208" cy="1781" r="1.7"/>
<rect class="cb" x="215" y="1752" width="165" height="33"/>
<text class="c sm" x="218" y="1758"><tspan class="k">var</tspan> array = [1, 2, 3, 4, 5];</text>
<text class="c sm" x="218" y="1763.5"><tspan class="k">var</tspan> retVal = array.<tspan class="f">reduce</tspan>(<tspan class="k">function</tspan>(<tspan class="o">prev, cur, index, array</tspan>) {</text>
<text class="c sm m" x="218" y="1769">    // 把数组的每个数累加起来</text>
<text class="c sm" x="218" y="1774.5">    <tspan class="p">return</tspan> prev + cur;</text>
<text class="c sm" x="218" y="1779.5">});</text>
<text class="c sm" x="218" y="1784"><tspan class="f">console.log</tspan>(retVal);      <tspan class="m">// 15</tspan></text></g>
</g>
<g id="n-reduceright"><text class="t" x="153" y="1800">reduceRight()</text><circle class="dot" cx="193" cy="1798" r="1.7"/>
<text class="t" x="203" y="1794">从数组的最后一项开始，向前遍历到第一项</text>
<rect x="197" y="1799.5" width="86" height="9.5" fill="none" stroke="#8a5a2c" stroke-width="0.7"/><text class="t" x="203" y="1806.5">eg: 与reduce()一样，方向相反</text></g>
</g>

<text x="567" y="1795" style="font-size:22px;fill:#ffffff;font-family:'Noto Sans CJK SC',sans-serif">知乎 @我很酷</text>
</svg>
